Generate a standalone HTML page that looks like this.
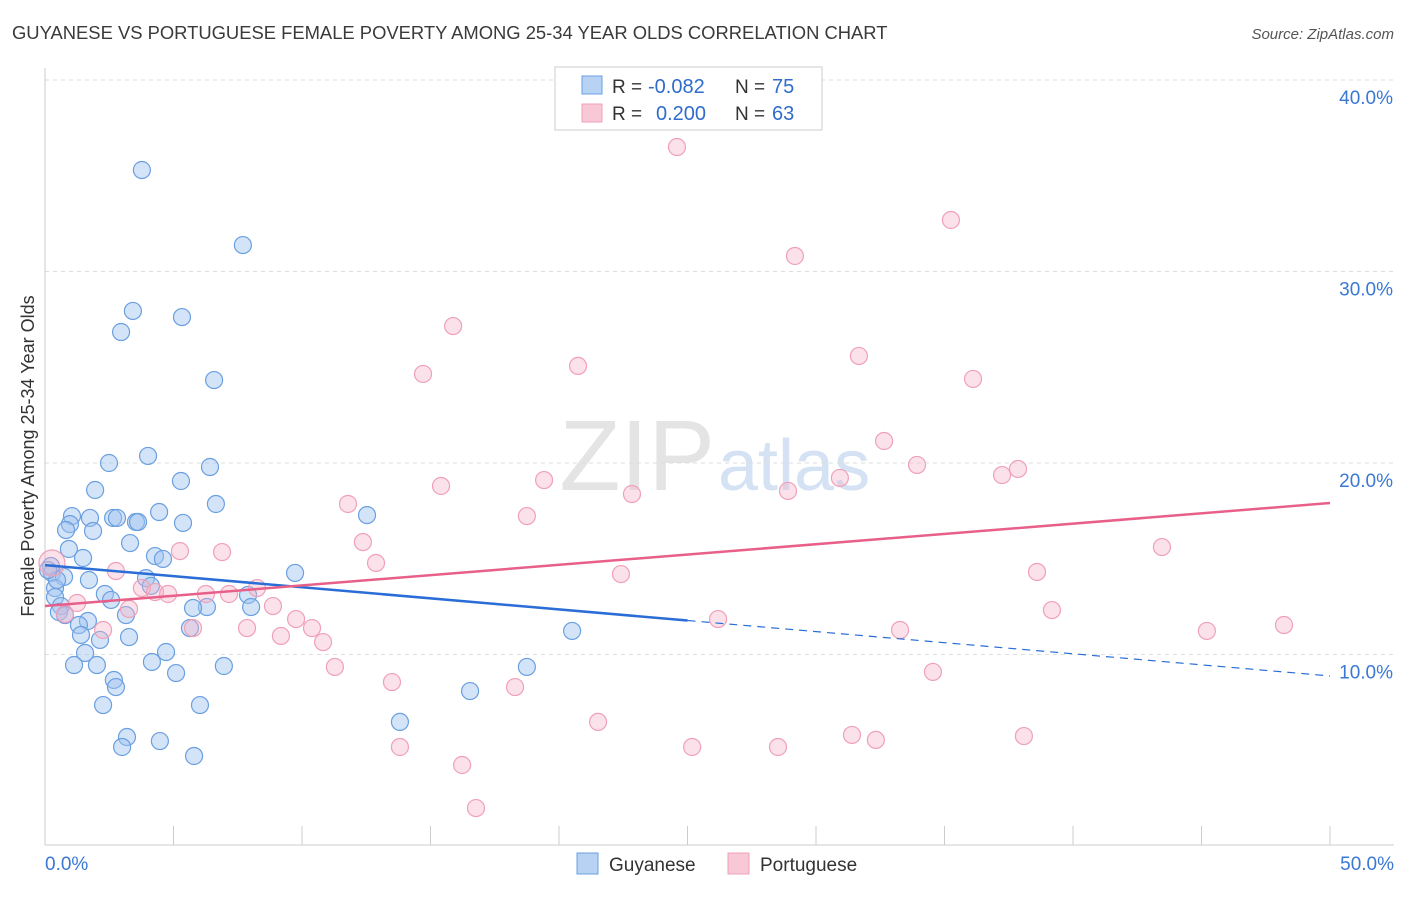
<!DOCTYPE html>
<html><head><meta charset="utf-8"><style>
body{margin:0;background:#fff;font-family:"Liberation Sans",sans-serif;}
svg text{font-family:"Liberation Sans",sans-serif;}
</style></head><body>
<svg id="chart" width="1406" height="892">
<text x="12" y="39" font-size="18.4" fill="#3a3a3a">GUYANESE VS PORTUGUESE FEMALE POVERTY AMONG 25-34 YEAR OLDS CORRELATION CHART</text>
<text x="1394" y="39" font-size="15" fill="#555" text-anchor="end" font-style="italic">Source: ZipAtlas.com</text>
<text x="715" y="490" font-size="100" fill="#e4e4e4" text-anchor="end" font-family="Liberation Serif">ZIP</text>
<text x="718" y="490" font-size="72" fill="#d4e2f4">atlas</text>
<g id="grid"></g><g id="axes"></g><g id="pts"></g><g id="lines"></g>
<text transform="translate(34,456) rotate(-90)" font-size="18" fill="#333" text-anchor="middle">Female Poverty Among 25-34 Year Olds</text>
<g>
<rect x="555" y="67" width="267" height="63" fill="#fff" stroke="#ccc"/>
<rect x="582" y="76" width="20" height="18" fill="#b8d2f4" stroke="#6a9fe0"/>
<text x="612" y="93" font-size="19" fill="#333">R =</text>
<text x="648" y="93" font-size="20" fill="#2f6ccb">-0.082</text>
<text x="735" y="93" font-size="19" fill="#333">N =</text>
<text x="772" y="93" font-size="20" fill="#2f6ccb">75</text>
<rect x="582" y="104" width="20" height="18" fill="#f8c8d6" stroke="#f0a0b8"/>
<text x="612" y="120" font-size="19" fill="#333">R =</text>
<text x="656" y="120" font-size="20" fill="#2f6ccb">0.200</text>
<text x="735" y="120" font-size="19" fill="#333">N =</text>
<text x="772" y="120" font-size="20" fill="#2f6ccb">63</text>
</g>
<g>
<rect x="577" y="853" width="21" height="21" fill="#b8d2f4" stroke="#6a9fe0"/>
<text x="609" y="871" font-size="19" fill="#333">Guyanese</text>
<rect x="728" y="853" width="21" height="21" fill="#f8c8d6" stroke="#f0a0b8"/>
<text x="760" y="871" font-size="19" fill="#333">Portuguese</text>
</g>
</svg>
<script>
const xTicks=[0,5,10,15,20,25,30,35,40,45,50];
const yTicks=[10,20,30,40];
const yTickLabels=["10.0%","20.0%","30.0%","40.0%"];
const blueX=[3.77,7.70,3.42,5.33,2.96,6.58,4.01,2.49,6.42,5.29,1.95,6.65,4.44,1.05,1.75,2.65,2.80,3.54,3.62,0.97,5.37,0.82,1.87,3.31,0.93,12.53,4.28,4.59,1.48,0.23,0.27,0.74,1.71,3.93,4.12,9.73,0.39,0.39,2.33,2.57,7.90,0.62,0.54,0.78,6.30,5.76,8.02,3.15,1.67,1.32,5.64,1.40,20.51,2.14,3.27,4.71,1.56,4.16,1.13,2.02,6.96,18.75,5.10,2.68,2.76,16.54,2.26,6.03,13.81,3.19,3.00,4.47,5.80,0.47,0.12];
const blueY=[35.30,31.38,27.94,27.62,26.84,24.33,20.37,20.00,19.79,19.06,18.59,17.86,17.44,17.23,17.13,17.13,17.13,16.92,16.92,16.81,16.87,16.50,16.45,15.82,15.51,17.28,15.14,14.99,15.04,14.62,14.26,14.05,13.89,13.99,13.58,14.26,13.47,13.00,13.16,12.85,13.11,12.53,12.22,12.06,12.48,12.43,12.48,12.06,11.75,11.54,11.38,11.02,11.23,10.76,10.91,10.13,10.08,9.61,9.45,9.45,9.40,9.35,9.03,8.67,8.30,8.09,7.36,7.36,6.48,5.69,5.17,5.48,4.70,13.89,14.41];
const pinkX=[24.59,35.25,29.18,15.88,20.74,14.71,31.67,36.11,32.65,33.93,37.24,37.86,19.42,15.41,22.84,11.79,28.91,30.93,18.75,12.37,43.46,5.25,6.89,12.88,2.76,38.60,22.41,8.25,3.77,4.28,4.79,7.16,6.26,1.25,3.27,8.87,39.18,9.77,26.19,10.39,7.86,5.76,2.26,9.18,10.82,48.21,45.21,33.27,11.28,34.55,13.50,18.29,21.52,31.40,32.33,38.09,13.81,25.18,28.52,16.23,16.77,0.27,0.78];
const pinkY=[36.50,32.69,30.81,27.15,25.07,24.65,25.59,24.39,21.15,19.90,19.37,19.69,19.11,18.80,18.38,17.86,18.54,19.22,17.23,15.87,15.61,15.40,15.35,14.78,14.36,14.31,14.20,13.47,13.47,13.26,13.16,13.16,13.16,12.69,12.38,12.53,12.32,11.85,11.85,11.38,11.38,11.38,11.28,10.97,10.65,11.54,11.23,11.28,9.35,9.09,8.56,8.30,6.48,5.80,5.54,5.74,5.17,5.17,5.17,4.23,1.98,14.78,12.11];
const blueTrend=[14.67,8.88];
const pinkTrend=[12.53,17.91];
const blueSolidEnd=25;
const NS="http://www.w3.org/2000/svg";
const X=v=>45+v*25.7, Y=v=>846-v*19.15;
function mk(t,a,p){const e=document.createElementNS(NS,t);for(const k in a)e.setAttribute(k,a[k]);p.appendChild(e);return e;}
const grid=document.getElementById('grid'),axes=document.getElementById('axes'),pts=document.getElementById('pts'),lines=document.getElementById('lines');
yTicks.forEach((t,i)=>{
 const l=mk('line',{x1:45,x2:1394,y1:Y(t),y2:Y(t),stroke:'#ddd','stroke-dasharray':'4,4'},grid);
 
 
 const tx=mk('text',{x:1393,y:Y(t)+24,'font-size':19,fill:'#3a78d4','text-anchor':'end'},axes);
 tx.textContent=yTickLabels[i];
 
 
});
const ax=mk('line',{x1:45,x2:1394,y1:845,y2:845,stroke:'#ccc'},axes);


const ay=mk('line',{x1:45,x2:45,y1:68,y2:845,stroke:'#ccc'},axes);


xTicks.forEach(t=>{
 const l=mk('line',{x1:X(t),x2:X(t),y1:826,y2:845,stroke:'#ccc'},axes);
 
 
});
const xl0=mk('text',{x:45,y:870,'font-size':19,fill:'#3a78d4'},axes);xl0.textContent='0.0%';


const xl1=mk('text',{x:1394,y:870,'font-size':19,fill:'#3a78d4','text-anchor':'end'},axes);xl1.textContent='50.0%';


blueX.forEach((v,i)=>{
 const c=mk('circle',{cx:X(v),cy:Y(blueY[i]),r:8.5,fill:'rgba(160,196,240,0.45)',stroke:'#6a9fe0','stroke-width':1.2},pts);
 
 
});
pinkX.forEach((v,i)=>{
 const c=mk('circle',{cx:X(v),cy:Y(pinkY[i]),r:i==pinkX.length-2?13:8.5,fill:'rgba(245,180,200,0.38)',stroke:'#f0a0b8','stroke-width':1.2},pts);
 
 
});
const bAt=x=>blueTrend[0]+(blueTrend[1]-blueTrend[0])*x/50;
const b1=mk('line',{x1:X(0),y1:Y(bAt(0)),x2:X(blueSolidEnd),y2:Y(bAt(blueSolidEnd)),stroke:'#2a6dd6','stroke-width':2.5},lines);


const b2=mk('line',{x1:X(blueSolidEnd),y1:Y(bAt(blueSolidEnd)),x2:X(50),y2:Y(bAt(50)),stroke:'#2a6dd6','stroke-width':1.2,'stroke-dasharray':'8,6'},lines);


const p1=mk('line',{x1:X(0),y1:Y(pinkTrend[0]),x2:X(50),y2:Y(pinkTrend[1]),stroke:'#e8608a','stroke-width':2.5},lines);


</script>
</body></html>
